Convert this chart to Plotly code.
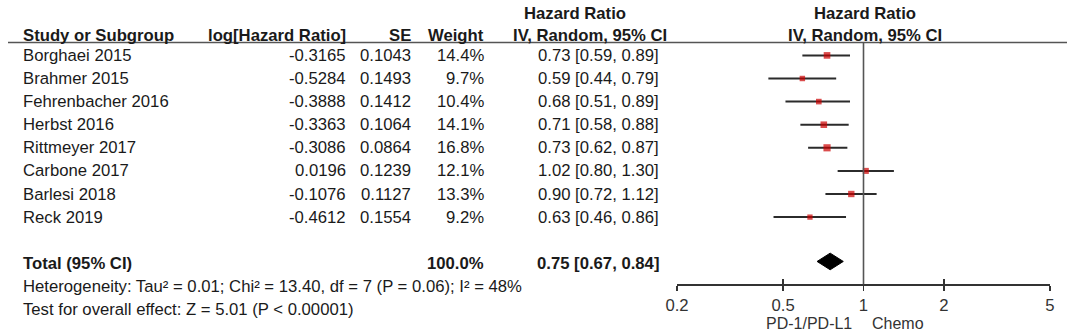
import math
import plotly.graph_objects as go

# ---------------- data ----------------
studies = ["Borghaei 2015", "Brahmer 2015", "Fehrenbacher 2016", "Herbst 2016",
           "Rittmeyer 2017", "Carbone 2017", "Barlesi 2018", "Reck 2019"]
log_hr = [-0.3165, -0.5284, -0.3888, -0.3363, -0.3086, 0.0196, -0.1076, -0.4612]
se = [0.1043, 0.1493, 0.1412, 0.1064, 0.0864, 0.1239, 0.1127, 0.1554]
weights = [14.4, 9.7, 10.4, 14.1, 16.8, 12.1, 13.3, 9.2]
hr = [0.73, 0.59, 0.68, 0.71, 0.73, 1.02, 0.90, 0.63]
ci_lo = [0.59, 0.44, 0.51, 0.58, 0.62, 0.80, 0.72, 0.46]
ci_hi = [0.89, 0.79, 0.89, 0.88, 0.87, 1.30, 1.12, 0.86]

total_label = "Total (95% CI)"
total_weight = 100.0
total_hr = 0.75
total_lo = 0.67
total_hi = 0.84

heterogeneity = "Heterogeneity: Tau² = 0.01; Chi² = 13.40, df = 7 (P = 0.06); I² = 48%"
overall_test = "Test for overall effect: Z = 5.01 (P < 0.00001)"

tick_vals = [0.2, 0.5, 1, 2, 5]
tick_text = ["0.2", "0.5", "1", "2", "5"]
favours_left = "PD-1/PD-L1"
favours_right = "Chemo"

# ---------------- layout helpers ----------------
W, H = 1074, 336
FONT = "Liberation Sans, Arial, sans-serif"
FS = 16.7
TXT = "#1a1a1a"

row0_px, row_step = 55.4, 23.1
def px_to_row(p):
    return (p - row0_px) / row_step

def px(xp):
    return xp / W

def py(yp):
    return 1 - yp / H

fig = go.Figure()

n = len(studies)
rows = list(range(n))
total_row = n + 1

# CI whiskers
lx, ly = [], []
for i in rows:
    lx += [ci_lo[i], ci_hi[i], None]
    ly += [i, i, None]
fig.add_trace(go.Scatter(x=lx, y=ly, mode="lines",
                         line=dict(color="#2b2b2b", width=2),
                         hoverinfo="skip", showlegend=False))

# study squares
fig.add_trace(go.Scatter(x=hr, y=rows, mode="markers",
                         marker=dict(symbol="square", color="#cc0000",
                                     size=[1.75 * math.sqrt(w) for w in weights],
                                     line=dict(width=0)),
                         showlegend=False))

# pooled diamond
dh = 0.36
yc = total_row - 0.08
fig.add_trace(go.Scatter(x=[total_lo, total_hr, total_hi, total_hr, total_lo],
                         y=[yc, yc - dh, yc, yc + dh, yc],
                         mode="lines", fill="toself", fillcolor="#000000",
                         line=dict(color="#000000", width=1),
                         hoverinfo="skip", showlegend=False))

axis_y = py(284.3)
fig.update_layout(
    width=W, height=H,
    margin=dict(l=0, r=0, t=0, b=0, pad=0, autoexpand=False),
    paper_bgcolor="white", plot_bgcolor="white",
    font=dict(family=FONT, size=FS, color=TXT),
    xaxis=dict(type="log", domain=[px(677), px(1050)],
               range=[math.log10(0.2), math.log10(5)],
               anchor="free", position=axis_y, automargin=False,
               showgrid=False, zeroline=False,
               showline=True, linecolor="#333333", linewidth=1.6,
               ticks="outside", ticklen=5, tickwidth=1.6, tickcolor="#333333",
               tickvals=tick_vals, ticktext=tick_text,
               tickfont=dict(family=FONT, size=FS, color="#333333")),
    xaxis2=dict(type="log", domain=[px(677), px(1050)],
                range=[math.log10(0.2), math.log10(5)],
                overlaying="x", anchor="free", position=axis_y, automargin=False,
                showgrid=False, zeroline=False, showline=False,
                ticks="inside", ticklen=5, tickwidth=1.6, tickcolor="#333333",
                tickvals=tick_vals, showticklabels=False),
    yaxis=dict(domain=[0, 1], range=[px_to_row(H), px_to_row(0)],
               visible=False, showgrid=False, zeroline=False, automargin=False),
)
fig.add_trace(go.Scatter(x=[1], y=[-5], xaxis="x2", mode="markers",
                         marker=dict(opacity=0), hoverinfo="skip", showlegend=False))

# header underline and line of no effect
fig.add_shape(type="line", xref="paper", yref="paper",
              x0=px(8), x1=px(1067), y0=py(42.5), y1=py(42.5),
              line=dict(color="#555555", width=1.6))
fig.add_shape(type="line", xref="x", yref="paper",
              x0=1, x1=1, y0=py(42.5), y1=axis_y,
              line=dict(color="#555555", width=1.6))

def ann(text, xp, row, anchor="left", bold=False, color=TXT, size=FS):
    if bold:
        text = "<b>" + text + "</b>"
    fig.add_annotation(text=text, x=px(xp), y=row, xref="paper", yref="y",
                       xanchor=anchor, yanchor="middle", showarrow=False,
                       borderpad=0,
                       font=dict(family=FONT, size=size, color=color))

# headers
hdr_row = px_to_row(35.5)
top_row = px_to_row(13.5)
ann("Study or Subgroup", 22, hdr_row, bold=True)
ann("log[Hazard Ratio]", 347, hdr_row, anchor="right", bold=True)
ann("SE", 412, hdr_row, anchor="right", bold=True)
ann("Weight", 485, hdr_row, anchor="right", bold=True)
ann("Hazard Ratio", 627, top_row, anchor="right", bold=True)
ann("IV, Random, 95% CI", 668, hdr_row, anchor="right", bold=True)
ann("Hazard Ratio", 865, top_row, anchor="center", bold=True)
ann("IV, Random, 95% CI", 865, hdr_row, anchor="center", bold=True)

# study rows
for i in rows:
    ann(studies[i], 22, i)
    ann(f"{log_hr[i]:.4f}", 347, i, anchor="right")
    ann(f"{se[i]:.4f}", 412, i, anchor="right")
    ann(f"{weights[i]:.1f}%", 485, i, anchor="right")
    ann(f"{hr[i]:.2f} [{ci_lo[i]:.2f}, {ci_hi[i]:.2f}]", 660, i, anchor="right")

# total & footnotes
ann(total_label, 22, total_row, bold=True)
ann(f"{total_weight:.1f}%", 485, total_row, anchor="right", bold=True)
ann(f"{total_hr:.2f} [{total_lo:.2f}, {total_hi:.2f}]", 660, total_row, anchor="right", bold=True)
ann(heterogeneity, 22, total_row + 1)
ann(overall_test, 22, total_row + 2)

# favours labels
fav_row = px_to_row(323)
ann(favours_left, 853, fav_row, anchor="right", color="#333333", size=16)
ann(favours_right, 871, fav_row, anchor="left", color="#333333", size=16)

fig.write_html("out.html",
               config={"displayModeBar": False, "staticPlot": True},
               post_script="document.body.style.margin='0';document.body.style.overflow='hidden';")
